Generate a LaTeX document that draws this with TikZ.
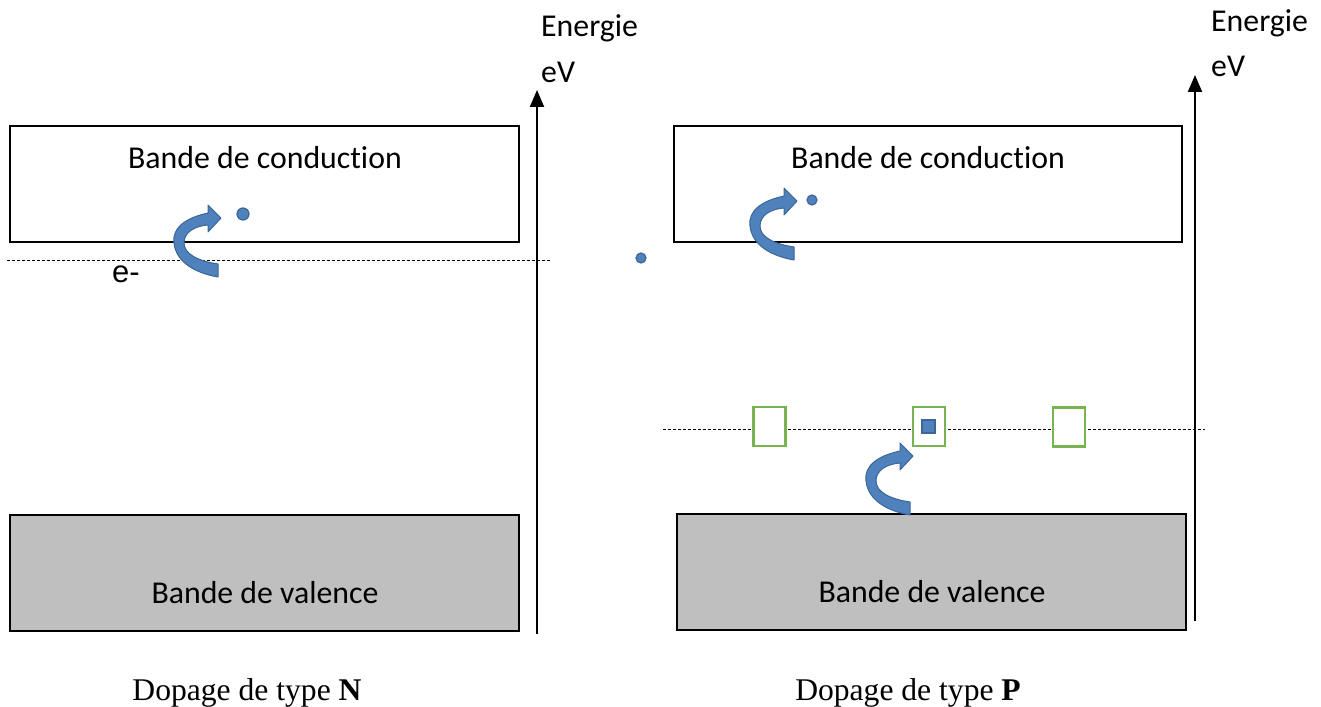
\documentclass[tikz,border=0pt]{standalone}
\usepackage{fontspec}
\setmainfont{Liberation Serif}
\newfontfamily\calibri[Ligatures={NoCommon,NoRequired,NoContextual}]{Carlito}
\newfontfamily\arialf{Liberation Sans}
\usetikzlibrary{arrows.meta}
\definecolor{arrowblue}{HTML}{4F81BD}
\definecolor{arrowedge}{HTML}{3C6696}
\definecolor{bandgray}{HTML}{BFBFBF}
\definecolor{accgreen}{HTML}{77B34E}
\tikzset{
  curvarrow/.pic={
    \filldraw[fill=arrowblue, draw=arrowedge, line width=1pt, line join=round]
      (-3,46) .. controls (-23,43) and (-37,36) .. (-37,25)
      .. controls (-37,14) and (-26,8) .. (-13,7)
      -- (-13,14) -- (0,0) -- (-13,-13) -- (-13,-5)
      .. controls (-36,0) and (-49,10) .. (-47,25)
      .. controls (-45,44) and (-26,55) .. (-3,59) -- cycle;
  }
}
\begin{document}
\begin{tikzpicture}[x=1pt,y=-1pt,
  bandbox/.style={draw=black, line width=1.5pt, inner sep=0pt},
  bandtxt/.style={font=\calibri\fontsize{31.8}{37}\selectfont, inner sep=0pt},
  captxt/.style={font=\fontsize{31.6}{37}\selectfont, inner sep=0pt, anchor=base},
  axis/.style={line width=2pt, -{Triangle[width=14pt,length=17pt]}},
  fermi/.style={line width=0.8pt, dash pattern=on 3pt off 2pt},
  eldot/.style={circle, fill=arrowblue, draw=arrowedge, line width=1.2pt, inner sep=0pt},
  accbox/.style={draw=accgreen, fill=white, line width=2.5pt, inner sep=0pt, minimum width=32pt, minimum height=39pt},
  hole/.style={fill=arrowblue, draw=arrowedge, line width=1.2pt, inner sep=0pt, minimum size=13pt}
]
\useasboundingbox (0,0) rectangle (1321,706);

% ---------- left: type N ----------
\node[bandbox, minimum width=509pt, minimum height=116pt] (cbL) at (264.5,184) {};
\node[bandtxt] (cbLt) at (265,158) {Bande de conduction};
\node[bandbox, fill=bandgray, minimum width=509pt, minimum height=116pt] (vbL) at (264.5,573) {};
\node[bandtxt] (vbLt) at (265,593) {Bande de valence};

\coordinate (dlL1) at (7,260);
\coordinate (dlL2) at (550,260);
\draw[fermi] (dlL1) -- (dlL2);

\node[font=\arialf\fontsize{31}{37}\selectfont, inner sep=0pt, anchor=base west] (em) at (112,282) {e-};
\pic at (221,218) {curvarrow};
\node[eldot, minimum size=12pt] (dL) at (243,214) {};

\coordinate (axL0) at (537,634);
\coordinate (axL1) at (537,90);
\draw[axis] (axL0) -- (axL1);
\node[bandtxt, anchor=base west] (enL) at (541,37) {Energie};
\node[bandtxt, anchor=base west] (evL) at (541,83) {eV};

\node[captxt] (capN) at (247,700) {Dopage de type \textbf{N}};

% ---------- right: type P ----------
\node[bandbox, minimum width=508pt, minimum height=116pt] (cbR) at (928,184) {};
\node[bandtxt] (cbRt) at (928,158) {Bande de conduction};
\node[bandbox, fill=bandgray, minimum width=509pt, minimum height=116pt] (vbR) at (931.5,572) {};
\node[bandtxt] (vbRt) at (932,592) {Bande de valence};

\coordinate (dlR1) at (663,429);
\coordinate (dlR2) at (1205,429);
\draw[fermi] (dlR1) -- (dlR2);

\node[accbox] (a1) at (769.5,426.5) {};
\node[accbox] (a2) at (929,426.5) {};
\node[accbox] (a3) at (1069,427) {};
\node[hole] (h2) at (928.5,426.5) {};

\pic at (797,201) {curvarrow};
\pic at (913,456) {curvarrow};
\node[eldot, minimum size=10pt] (dR) at (812,200) {};
\node[eldot, minimum size=10pt] (dF) at (641,258) {};

\coordinate (axR0) at (1195,621);
\coordinate (axR1) at (1195,75);
\draw[axis] (axR0) -- (axR1);
\node[bandtxt, anchor=base west] (enR) at (1211,32) {Energie};
\node[bandtxt, anchor=base west] (evR) at (1211,77) {eV};

\node[captxt] (capP) at (908,700) {Dopage de type \textbf{P}};
\end{tikzpicture}
\end{document}
